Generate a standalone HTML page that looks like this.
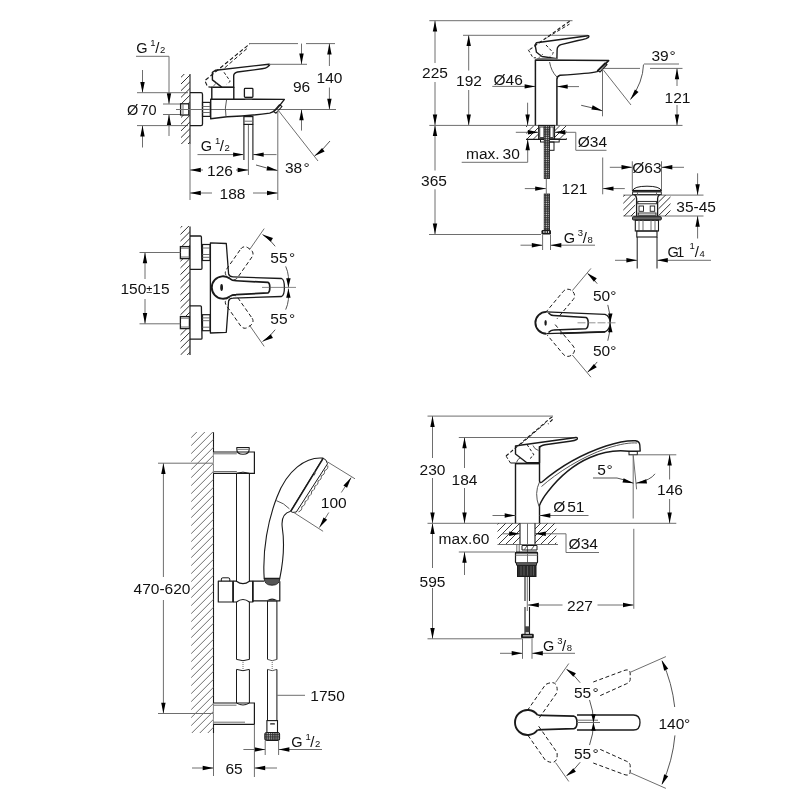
<!DOCTYPE html>
<html><head><meta charset="utf-8"><style>
html,body{margin:0;padding:0;background:#fff;width:800px;height:800px;overflow:hidden}
svg{display:block;will-change:transform}
text{font-family:"Liberation Sans",sans-serif;fill:#111}
</style></head><body>
<svg width="800" height="800" viewBox="0 0 800 800">
<defs><pattern id="braid" width="2.2" height="2.2" patternUnits="userSpaceOnUse"><rect width="2.2" height="2.2" fill="#2e2e2e"/><rect x="0.5" y="0.5" width="1.1" height="1.1" fill="#e8e8e8"/></pattern></defs>
<text x="136.20" y="52.60" font-size="14.5" text-anchor="start" >G</text>
<text x="150.30" y="45.60" font-size="9.5" text-anchor="start" >1</text>
<text x="155.20" y="52.90" font-size="15" text-anchor="start" >/</text>
<text x="159.90" y="53.00" font-size="9.5" text-anchor="start" >2</text>
<line x1="136.00" y1="56.30" x2="169.00" y2="56.30" stroke="#6e6e6e" stroke-width="1.0"/>
<line x1="169.00" y1="56.30" x2="169.00" y2="104.00" stroke="#6e6e6e" stroke-width="1.0"/>
<path d="M169.00,104.00 L166.80,93.20 L171.20,93.20 Z" fill="#000"/>
<line x1="169.00" y1="114.50" x2="169.00" y2="136.00" stroke="#6e6e6e" stroke-width="1.0"/>
<path d="M169.00,114.50 L171.20,125.30 L166.80,125.30 Z" fill="#000"/>
<line x1="142.50" y1="70.00" x2="142.50" y2="92.70" stroke="#6e6e6e" stroke-width="1.0"/>
<path d="M142.50,92.70 L140.30,81.90 L144.70,81.90 Z" fill="#000"/>
<line x1="142.50" y1="125.60" x2="142.50" y2="147.50" stroke="#6e6e6e" stroke-width="1.0"/>
<path d="M142.50,125.60 L144.70,136.40 L140.30,136.40 Z" fill="#000"/>
<text x="127.00" y="114.50" font-size="14.5" text-anchor="start" >Ø</text>
<text x="140.50" y="114.50" font-size="14.5" text-anchor="start" >70</text>
<line x1="137.00" y1="92.70" x2="188.00" y2="92.70" stroke="#6e6e6e" stroke-width="1.0"/>
<line x1="137.00" y1="125.60" x2="188.00" y2="125.60" stroke="#6e6e6e" stroke-width="1.0"/>
<line x1="163.00" y1="104.00" x2="180.00" y2="104.00" stroke="#6e6e6e" stroke-width="1.0"/>
<line x1="163.00" y1="114.50" x2="180.00" y2="114.50" stroke="#6e6e6e" stroke-width="1.0"/>
<line x1="190.00" y1="74.00" x2="190.00" y2="144.00" stroke="#1a1a1a" stroke-width="1.1"/>
<clipPath id="h1"><path d="M181,74 L190,74 L190,144 L181,144 Z"/></clipPath>
<g clip-path="url(#h1)">
<line x1="107.60" y1="144.00" x2="177.60" y2="74.00" stroke="#333" stroke-width="1.0"/>
<line x1="114.30" y1="144.00" x2="184.30" y2="74.00" stroke="#333" stroke-width="1.0"/>
<line x1="121.00" y1="144.00" x2="191.00" y2="74.00" stroke="#333" stroke-width="1.0"/>
<line x1="127.70" y1="144.00" x2="197.70" y2="74.00" stroke="#333" stroke-width="1.0"/>
<line x1="134.40" y1="144.00" x2="204.40" y2="74.00" stroke="#333" stroke-width="1.0"/>
<line x1="141.10" y1="144.00" x2="211.10" y2="74.00" stroke="#333" stroke-width="1.0"/>
<line x1="147.80" y1="144.00" x2="217.80" y2="74.00" stroke="#333" stroke-width="1.0"/>
<line x1="154.50" y1="144.00" x2="224.50" y2="74.00" stroke="#333" stroke-width="1.0"/>
<line x1="161.20" y1="144.00" x2="231.20" y2="74.00" stroke="#333" stroke-width="1.0"/>
<line x1="167.90" y1="144.00" x2="237.90" y2="74.00" stroke="#333" stroke-width="1.0"/>
<line x1="174.60" y1="144.00" x2="244.60" y2="74.00" stroke="#333" stroke-width="1.0"/>
<line x1="181.30" y1="144.00" x2="251.30" y2="74.00" stroke="#333" stroke-width="1.0"/>
<line x1="188.00" y1="144.00" x2="258.00" y2="74.00" stroke="#333" stroke-width="1.0"/>
<line x1="194.70" y1="144.00" x2="264.70" y2="74.00" stroke="#333" stroke-width="1.0"/>
</g>
<path d="M190,92.7 L201,92.7 Q202.5,92.7 202.5,94.5 L202.5,124 Q202.5,125.6 201,125.6 L190,125.6" fill="none" stroke="#1a1a1a" stroke-width="1.3" stroke-linejoin="round" />
<rect x="180.60" y="103.80" width="8.20" height="11.20" rx="0" fill="#fff" stroke="#1a1a1a" stroke-width="1.3"/>
<line x1="183.00" y1="103.80" x2="183.00" y2="115.00" stroke="#6e6e6e" stroke-width="1.0"/>
<rect x="202.50" y="102.40" width="7.80" height="14.00" rx="0" fill="none" stroke="#1a1a1a" stroke-width="1.2"/>
<line x1="202.50" y1="106.50" x2="210.30" y2="106.50" stroke="#6e6e6e" stroke-width="1.0"/>
<line x1="202.50" y1="109.40" x2="210.30" y2="109.40" stroke="#6e6e6e" stroke-width="1.0"/>
<line x1="202.50" y1="112.50" x2="210.30" y2="112.50" stroke="#6e6e6e" stroke-width="1.0"/>
<line x1="176.00" y1="109.50" x2="336.00" y2="109.50" stroke="#6e6e6e" stroke-width="1.0"/>
<path d="M210.7,99.1 L284.4,99.4 L279,106.4 Q275,111.5 269.7,113.1 Q250,116 227,116.8 L210.7,118.8 Z" fill="none" stroke="#1a1a1a" stroke-width="1.4" stroke-linejoin="round" />
<path d="M226.5,100 Q224.5,108 226,116.5" fill="none" stroke="#555" stroke-width="1.0" stroke-linejoin="round" />
<path d="M273.5,111.5 L279.5,104.7 L282,106.5 L276,113.2 Z" fill="none" stroke="#1a1a1a" stroke-width="1.1" stroke-linejoin="round" />
<path d="M211.8,99 L211.8,87.2 L233.8,87.2 L233.8,99" fill="none" stroke="#1a1a1a" stroke-width="1.4" stroke-linejoin="round" />
<path d="M212.4,72.3 L215.8,70.2 L268.8,64.2 Q270.3,64.3 269.2,65.5 L267.5,67 Q266,68.3 262,68.8 L237.5,72 Q233.7,72.8 233.7,76 L233.7,87.4 L222,87.4 L212.4,79.9 Z" fill="none" stroke="#1a1a1a" stroke-width="1.4" stroke-linejoin="round" />
<line x1="212.40" y1="87.40" x2="216.50" y2="82.60" stroke="#6e6e6e" stroke-width="1.0"/>
<path d="M212.4,87.4 L207.6,86.8 L204.8,80.6 L247.6,45.6 Q248.5,44.2 250,43.8" fill="none" stroke="#1a1a1a" stroke-width="1.1" stroke-linejoin="round" stroke-dasharray="4,2.3" />
<path d="M224.75,67.8 L248.1,47.6" fill="none" stroke="#1a1a1a" stroke-width="1.0" stroke-linejoin="round" stroke-dasharray="4,2.3" />
<path d="M224,72.3 L230.25,81.25 L226.8,84" fill="none" stroke="#1a1a1a" stroke-width="1.0" stroke-linejoin="round" stroke-dasharray="3,2" />
<rect x="244.40" y="88.40" width="8.50" height="9.00" rx="0.8" fill="none" stroke="#1a1a1a" stroke-width="1.3"/>
<line x1="245.20" y1="97.40" x2="252.20" y2="97.40" stroke="#1a1a1a" stroke-width="1"/>
<line x1="245.20" y1="99.00" x2="252.20" y2="99.00" stroke="#6e6e6e" stroke-width="1.0"/>
<rect x="243.90" y="116.60" width="9.00" height="7.80" rx="0" fill="none" stroke="#1a1a1a" stroke-width="1.2"/>
<line x1="243.90" y1="121.20" x2="252.90" y2="121.20" stroke="#6e6e6e" stroke-width="1.0"/>
<line x1="243.90" y1="124.40" x2="243.90" y2="160.00" stroke="#1a1a1a" stroke-width="1.1"/>
<line x1="252.90" y1="124.40" x2="252.90" y2="160.00" stroke="#1a1a1a" stroke-width="1.1"/>
<line x1="248.40" y1="125.00" x2="248.40" y2="175.00" stroke="#6e6e6e" stroke-width="1.0"/>
<line x1="249.00" y1="43.60" x2="298.00" y2="43.60" stroke="#6e6e6e" stroke-width="1.0"/>
<line x1="306.00" y1="43.60" x2="335.00" y2="43.60" stroke="#6e6e6e" stroke-width="1.0"/>
<line x1="269.00" y1="64.30" x2="307.00" y2="64.30" stroke="#6e6e6e" stroke-width="1.0"/>
<line x1="301.50" y1="43.60" x2="301.50" y2="64.30" stroke="#6e6e6e" stroke-width="1.0"/>
<path d="M301.50,64.30 L299.30,53.50 L303.70,53.50 Z" fill="#000"/>
<line x1="301.50" y1="109.50" x2="301.50" y2="130.60" stroke="#6e6e6e" stroke-width="1.0"/>
<path d="M301.50,109.50 L303.70,120.30 L299.30,120.30 Z" fill="#000"/>
<line x1="329.40" y1="43.60" x2="329.40" y2="66.00" stroke="#6e6e6e" stroke-width="1.0"/>
<line x1="329.40" y1="87.50" x2="329.40" y2="109.50" stroke="#6e6e6e" stroke-width="1.0"/>
<path d="M329.40,43.60 L331.60,54.40 L327.20,54.40 Z" fill="#000"/>
<path d="M329.40,109.50 L327.20,98.70 L331.60,98.70 Z" fill="#000"/>
<text x="329.50" y="82.60" font-size="15.5" text-anchor="middle" >140</text>
<text x="301.50" y="92.20" font-size="15.5" text-anchor="middle" >96</text>
<line x1="190.00" y1="144.00" x2="190.00" y2="200.00" stroke="#6e6e6e" stroke-width="1.0"/>
<line x1="277.80" y1="111.00" x2="277.80" y2="200.00" stroke="#6e6e6e" stroke-width="1.0"/>
<text x="200.80" y="151.00" font-size="14.5" text-anchor="start" >G</text>
<text x="214.90" y="144.00" font-size="9.5" text-anchor="start" >1</text>
<text x="219.80" y="151.30" font-size="15" text-anchor="start" >/</text>
<text x="224.50" y="151.40" font-size="9.5" text-anchor="start" >2</text>
<line x1="197.50" y1="154.60" x2="243.90" y2="154.60" stroke="#6e6e6e" stroke-width="1.0"/>
<path d="M243.90,154.60 L233.10,156.80 L233.10,152.40 Z" fill="#000"/>
<line x1="252.90" y1="154.60" x2="276.50" y2="154.60" stroke="#6e6e6e" stroke-width="1.0"/>
<path d="M252.90,154.60 L263.70,152.40 L263.70,156.80 Z" fill="#000"/>
<line x1="190.00" y1="170.00" x2="203.00" y2="170.00" stroke="#6e6e6e" stroke-width="1.0"/>
<path d="M190.00,170.00 L200.80,167.80 L200.80,172.20 Z" fill="#000"/>
<line x1="236.00" y1="170.00" x2="248.40" y2="170.00" stroke="#6e6e6e" stroke-width="1.0"/>
<path d="M248.40,170.00 L237.60,172.20 L237.60,167.80 Z" fill="#000"/>
<text x="220.00" y="175.50" font-size="15.5" text-anchor="middle" >126</text>
<line x1="190.00" y1="193.00" x2="212.00" y2="193.00" stroke="#6e6e6e" stroke-width="1.0"/>
<path d="M190.00,193.00 L200.80,190.80 L200.80,195.20 Z" fill="#000"/>
<line x1="253.00" y1="193.00" x2="277.80" y2="193.00" stroke="#6e6e6e" stroke-width="1.0"/>
<path d="M277.80,193.00 L267.00,195.20 L267.00,190.80 Z" fill="#000"/>
<text x="232.50" y="198.50" font-size="15.5" text-anchor="middle" >188</text>
<line x1="278.00" y1="110.00" x2="318.00" y2="161.00" stroke="#6e6e6e" stroke-width="1.0"/>
<path d="M256,165 Q266,168 277.5,170.5" fill="none" stroke="#555" stroke-width="1.0" stroke-linejoin="round" />
<path d="M277.50,170.50 L266.48,170.41 L267.39,166.10 Z" fill="#000"/>
<path d="M330,141 Q323,150 314.5,156" fill="none" stroke="#555" stroke-width="1.0" stroke-linejoin="round" />
<path d="M314.50,156.00 L322.08,148.00 L324.61,151.61 Z" fill="#000"/>
<text x="285.00" y="172.50" font-size="15.5" text-anchor="start" >38</text>
<text x="303.50" y="172.50" font-size="15.5" text-anchor="start" >°</text>
<line x1="190.00" y1="226.50" x2="190.00" y2="355.00" stroke="#1a1a1a" stroke-width="1.2"/>
<clipPath id="h2"><path d="M180.5,226 L190,226 L190,355 L180.5,355 Z"/></clipPath>
<g clip-path="url(#h2)">
<line x1="46.50" y1="355.00" x2="175.50" y2="226.00" stroke="#333" stroke-width="1.0"/>
<line x1="53.20" y1="355.00" x2="182.20" y2="226.00" stroke="#333" stroke-width="1.0"/>
<line x1="59.90" y1="355.00" x2="188.90" y2="226.00" stroke="#333" stroke-width="1.0"/>
<line x1="66.60" y1="355.00" x2="195.60" y2="226.00" stroke="#333" stroke-width="1.0"/>
<line x1="73.30" y1="355.00" x2="202.30" y2="226.00" stroke="#333" stroke-width="1.0"/>
<line x1="80.00" y1="355.00" x2="209.00" y2="226.00" stroke="#333" stroke-width="1.0"/>
<line x1="86.70" y1="355.00" x2="215.70" y2="226.00" stroke="#333" stroke-width="1.0"/>
<line x1="93.40" y1="355.00" x2="222.40" y2="226.00" stroke="#333" stroke-width="1.0"/>
<line x1="100.10" y1="355.00" x2="229.10" y2="226.00" stroke="#333" stroke-width="1.0"/>
<line x1="106.80" y1="355.00" x2="235.80" y2="226.00" stroke="#333" stroke-width="1.0"/>
<line x1="113.50" y1="355.00" x2="242.50" y2="226.00" stroke="#333" stroke-width="1.0"/>
<line x1="120.20" y1="355.00" x2="249.20" y2="226.00" stroke="#333" stroke-width="1.0"/>
<line x1="126.90" y1="355.00" x2="255.90" y2="226.00" stroke="#333" stroke-width="1.0"/>
<line x1="133.60" y1="355.00" x2="262.60" y2="226.00" stroke="#333" stroke-width="1.0"/>
<line x1="140.30" y1="355.00" x2="269.30" y2="226.00" stroke="#333" stroke-width="1.0"/>
<line x1="147.00" y1="355.00" x2="276.00" y2="226.00" stroke="#333" stroke-width="1.0"/>
<line x1="153.70" y1="355.00" x2="282.70" y2="226.00" stroke="#333" stroke-width="1.0"/>
<line x1="160.40" y1="355.00" x2="289.40" y2="226.00" stroke="#333" stroke-width="1.0"/>
<line x1="167.10" y1="355.00" x2="296.10" y2="226.00" stroke="#333" stroke-width="1.0"/>
<line x1="173.80" y1="355.00" x2="302.80" y2="226.00" stroke="#333" stroke-width="1.0"/>
<line x1="180.50" y1="355.00" x2="309.50" y2="226.00" stroke="#333" stroke-width="1.0"/>
<line x1="187.20" y1="355.00" x2="316.20" y2="226.00" stroke="#333" stroke-width="1.0"/>
<line x1="193.90" y1="355.00" x2="322.90" y2="226.00" stroke="#333" stroke-width="1.0"/>
</g>
<path d="M190,236.0 L200.5,236.0 Q201.3,236.0 201.4,237.0 L202,268.3 Q202,269.3 201,269.3 L190,269.3" fill="none" stroke="#1a1a1a" stroke-width="1.3" stroke-linejoin="round" />
<rect x="180.4" y="246.6" width="9" height="12.000000000000028" fill="#fff" stroke="#1a1a1a" stroke-width="1.3"/>
<line x1="181.00" y1="248.20" x2="189.40" y2="248.20" stroke="#6e6e6e" stroke-width="1.0"/>
<line x1="181.00" y1="257.00" x2="189.40" y2="257.00" stroke="#6e6e6e" stroke-width="1.0"/>
<rect x="202.50" y="244.50" width="7.60" height="16.00" rx="0" fill="none" stroke="#1a1a1a" stroke-width="1.2"/>
<line x1="202.50" y1="248.00" x2="210.10" y2="248.00" stroke="#6e6e6e" stroke-width="1.0"/>
<line x1="202.50" y1="254.50" x2="210.10" y2="254.50" stroke="#6e6e6e" stroke-width="1.0"/>
<line x1="202.50" y1="257.30" x2="210.10" y2="257.30" stroke="#6e6e6e" stroke-width="1.0"/>
<path d="M190,305.90000000000003 L200.5,305.90000000000003 Q201.3,305.90000000000003 201.4,306.90000000000003 L202,338.20000000000005 Q202,339.20000000000005 201,339.20000000000005 L190,339.20000000000005" fill="none" stroke="#1a1a1a" stroke-width="1.3" stroke-linejoin="round" />
<rect x="180.4" y="316.6" width="9" height="12.0" fill="#fff" stroke="#1a1a1a" stroke-width="1.3"/>
<line x1="181.00" y1="318.20" x2="189.40" y2="318.20" stroke="#6e6e6e" stroke-width="1.0"/>
<line x1="181.00" y1="327.00" x2="189.40" y2="327.00" stroke="#6e6e6e" stroke-width="1.0"/>
<rect x="202.50" y="314.70" width="7.60" height="16.00" rx="0" fill="none" stroke="#1a1a1a" stroke-width="1.2"/>
<line x1="202.50" y1="327.20" x2="210.10" y2="327.20" stroke="#6e6e6e" stroke-width="1.0"/>
<line x1="202.50" y1="320.70" x2="210.10" y2="320.70" stroke="#6e6e6e" stroke-width="1.0"/>
<line x1="202.50" y1="317.90" x2="210.10" y2="317.90" stroke="#6e6e6e" stroke-width="1.0"/>
<line x1="139.50" y1="252.50" x2="180.40" y2="252.50" stroke="#6e6e6e" stroke-width="1.0"/>
<line x1="139.50" y1="323.80" x2="180.40" y2="323.80" stroke="#6e6e6e" stroke-width="1.0"/>
<line x1="145.00" y1="252.50" x2="145.00" y2="279.00" stroke="#6e6e6e" stroke-width="1.0"/>
<line x1="145.00" y1="299.00" x2="145.00" y2="323.80" stroke="#6e6e6e" stroke-width="1.0"/>
<path d="M145.00,252.50 L147.20,263.30 L142.80,263.30 Z" fill="#000"/>
<path d="M145.00,323.80 L142.80,313.00 L147.20,313.00 Z" fill="#000"/>
<text x="145.00" y="294.00" font-size="15.5" text-anchor="middle" >150<tspan font-size="11" dy="-1">±</tspan><tspan dy="1">15</tspan></text>
<path d="M210.4,242.8 L226.3,243.5 L228.6,274 Q229.5,276.8 233,276.8 L281.5,278.5 Q284.4,279.5 284.4,287.5 Q284.4,295.5 281.5,296.5 L233,298.2 Q229.5,298.2 228.6,301 L226.3,332.3 L210.4,333 Z" fill="none" stroke="#1a1a1a" stroke-width="1.3" stroke-linejoin="round" />
<path d="M229.8,278.6 A11.2,11.2 0 1 0 229.8,296.4" fill="none" stroke="#1a1a1a" stroke-width="1.9" stroke-linejoin="round" />
<path d="M229.8,278.6 Q232,280.6 236,280.75 L268,282.4 Q269.8,283 269.8,287.5 Q269.8,292 268,292.9 L236,294.6 Q232,294.6 229.8,296.4" fill="none" stroke="#1a1a1a" stroke-width="1.7" stroke-linejoin="round" />
<ellipse cx="221.6" cy="287.5" rx="1.4" ry="3.4" fill="#1a1a1a"/>
<line x1="262.00" y1="287.40" x2="296.00" y2="287.40" stroke="#555" stroke-width="0.7"/>
<line x1="249.60" y1="249.60" x2="264.20" y2="228.60" stroke="#6e6e6e" stroke-width="1.0"/>
<line x1="249.60" y1="325.40" x2="264.20" y2="346.40" stroke="#6e6e6e" stroke-width="1.0"/>
<path d="M240.81,248.89 L241.69,247.93 L242.79,247.23 L244.04,246.84 L245.34,246.78 L246.62,247.06 L247.77,247.66 L250.89,249.84 L251.85,250.73 L252.55,251.83 L252.94,253.07 L253.00,254.38 L252.72,255.65 L252.11,256.81 L237.49,277.70 L236.61,278.66 L235.51,279.36 L234.26,279.75 L232.96,279.81 L231.68,279.53 L230.52,278.92 L227.41,276.74 L226.45,275.86 L225.75,274.76 L225.36,273.52 L225.30,272.21 L225.58,270.94 L226.18,269.78 Z" fill="none" stroke="#1a1a1a" stroke-width="1.0" stroke-linejoin="round" stroke-dasharray="4,2.5" />
<path d="M252.11,318.19 L252.72,319.35 L253.00,320.62 L252.94,321.93 L252.55,323.17 L251.85,324.27 L250.89,325.16 L247.77,327.34 L246.62,327.94 L245.34,328.22 L244.04,328.16 L242.79,327.77 L241.69,327.07 L240.81,326.11 L226.18,305.22 L225.58,304.06 L225.30,302.79 L225.36,301.48 L225.75,300.24 L226.45,299.14 L227.41,298.26 L230.52,296.08 L231.68,295.47 L232.96,295.19 L234.26,295.25 L235.51,295.64 L236.61,296.34 L237.49,297.30 Z" fill="none" stroke="#1a1a1a" stroke-width="1.0" stroke-linejoin="round" stroke-dasharray="4,2.5" />
<path d="M262.5,234.5 Q270,239 275.2,246.3" fill="none" stroke="#555" stroke-width="1.0" stroke-linejoin="round" />
<path d="M262.50,234.50 L272.95,237.99 L270.75,241.81 Z" fill="#000"/>
<path d="M285.7,266.4 Q287.8,271 288.4,276.5 L288.4,287.4" fill="none" stroke="#555" stroke-width="1.0" stroke-linejoin="round" />
<path d="M288.40,287.20 L286.20,278.20 L290.60,278.20 Z" fill="#000"/>
<path d="M262.5,341.5 Q270,337 275.2,329.7" fill="none" stroke="#555" stroke-width="1.0" stroke-linejoin="round" />
<path d="M262.50,341.50 L270.75,334.19 L272.95,338.01 Z" fill="#000"/>
<path d="M285.7,309.6 Q287.8,305 288.4,299.5 L288.4,288.6" fill="none" stroke="#555" stroke-width="1.0" stroke-linejoin="round" />
<path d="M288.40,288.80 L290.60,297.80 L286.20,297.80 Z" fill="#000"/>
<text x="270.30" y="263.10" font-size="15.5" text-anchor="start" >55</text>
<text x="288.90" y="263.10" font-size="15.5" text-anchor="start" >°</text>
<text x="270.30" y="324.40" font-size="15.5" text-anchor="start" >55</text>
<text x="288.90" y="324.40" font-size="15.5" text-anchor="start" >°</text>
<line x1="429.30" y1="20.70" x2="572.50" y2="20.70" stroke="#6e6e6e" stroke-width="1.0"/>
<line x1="463.00" y1="35.30" x2="588.00" y2="35.30" stroke="#6e6e6e" stroke-width="1.0"/>
<line x1="435.00" y1="20.70" x2="435.00" y2="63.00" stroke="#6e6e6e" stroke-width="1.0"/>
<line x1="435.00" y1="82.00" x2="435.00" y2="125.30" stroke="#6e6e6e" stroke-width="1.0"/>
<path d="M435.00,20.70 L437.20,31.50 L432.80,31.50 Z" fill="#000"/>
<path d="M435.00,125.30 L432.80,114.50 L437.20,114.50 Z" fill="#000"/>
<text x="435.00" y="78.20" font-size="15.5" text-anchor="middle" >225</text>
<line x1="435.00" y1="125.30" x2="435.00" y2="170.50" stroke="#6e6e6e" stroke-width="1.0"/>
<line x1="435.00" y1="189.30" x2="435.00" y2="234.30" stroke="#6e6e6e" stroke-width="1.0"/>
<path d="M435.00,125.30 L437.20,136.10 L432.80,136.10 Z" fill="#000"/>
<path d="M435.00,234.30 L432.80,223.50 L437.20,223.50 Z" fill="#000"/>
<text x="434.00" y="185.60" font-size="15.5" text-anchor="middle" >365</text>
<line x1="468.70" y1="35.30" x2="468.70" y2="70.50" stroke="#6e6e6e" stroke-width="1.0"/>
<line x1="468.70" y1="90.00" x2="468.70" y2="125.30" stroke="#6e6e6e" stroke-width="1.0"/>
<path d="M468.70,35.30 L470.90,46.10 L466.50,46.10 Z" fill="#000"/>
<path d="M468.70,125.30 L466.50,114.50 L470.90,114.50 Z" fill="#000"/>
<text x="469.00" y="85.60" font-size="15.5" text-anchor="middle" >192</text>
<line x1="429.30" y1="125.40" x2="682.50" y2="125.40" stroke="#6e6e6e" stroke-width="1.0"/>
<line x1="429.00" y1="234.50" x2="541.00" y2="234.50" stroke="#6e6e6e" stroke-width="1.0"/>
<text x="493.50" y="84.80" font-size="15.5" text-anchor="start" >Ø46</text>
<line x1="492.30" y1="86.40" x2="535.40" y2="86.40" stroke="#6e6e6e" stroke-width="1.0"/>
<path d="M535.40,86.40 L524.60,88.60 L524.60,84.20 Z" fill="#000"/>
<line x1="556.90" y1="86.60" x2="579.00" y2="86.60" stroke="#6e6e6e" stroke-width="1.0"/>
<path d="M556.90,86.60 L567.70,84.40 L567.70,88.80 Z" fill="#000"/>
<line x1="527.60" y1="102.70" x2="527.60" y2="125.30" stroke="#6e6e6e" stroke-width="1.0"/>
<path d="M527.60,125.30 L525.40,114.50 L529.80,114.50 Z" fill="#000"/>
<line x1="527.70" y1="139.50" x2="527.70" y2="162.30" stroke="#6e6e6e" stroke-width="1.0"/>
<path d="M527.70,139.50 L529.90,150.30 L525.50,150.30 Z" fill="#000"/>
<line x1="461.70" y1="162.30" x2="527.70" y2="162.30" stroke="#6e6e6e" stroke-width="1.0"/>
<text x="466.00" y="159.30" font-size="15.5" text-anchor="start" >max.</text>
<text x="502.60" y="159.30" font-size="15.5" text-anchor="start" >30</text>
<path d="M535.4,125.3 L535.4,59.9 L608.7,60.6 L597,71.6 Q590,73.5 560,75.2 Q556.9,76 556.9,79.5 L556.9,125.3" fill="none" stroke="#1a1a1a" stroke-width="1.5" stroke-linejoin="round" />
<path d="M549.6,62 Q551,71 556.9,77" fill="none" stroke="#555" stroke-width="1.0" stroke-linejoin="round" />
<path d="M597.5,70.5 L605,63 L607,64.5 L600,72 Z" fill="none" stroke="#1a1a1a" stroke-width="1.1" stroke-linejoin="round" />
<path d="M536.5,42.7 L588.1,35.8 Q589.5,36 588.5,37.3 L586,38.6 Q583,39.5 578,40.5 L561,44.6 Q557.2,45.7 557.1,50 L556.9,58.6 L542,56.5 L536.5,52.3 L535.1,44.8 Z" fill="none" stroke="#1a1a1a" stroke-width="1.4" stroke-linejoin="round" />
<line x1="536.50" y1="58.60" x2="556.90" y2="58.60" stroke="#6e6e6e" stroke-width="1.0"/>
<line x1="538.00" y1="58.60" x2="543.00" y2="54.00" stroke="#6e6e6e" stroke-width="1.0"/>
<path d="M529.6,49.6 L570.9,20.3" fill="none" stroke="#1a1a1a" stroke-width="1.1" stroke-linejoin="round" stroke-dasharray="3.5,2.2" />
<path d="M547.5,37.2 L569.5,24.1" fill="none" stroke="#1a1a1a" stroke-width="1.0" stroke-linejoin="round" stroke-dasharray="3.5,2.2" />
<path d="M528.3,49.8 L533,57.8 L536,57.8" fill="none" stroke="#1a1a1a" stroke-width="1.0" stroke-linejoin="round" stroke-dasharray="3,2" />
<path d="M546,45 L553.5,53 L550,56.5" fill="none" stroke="#1a1a1a" stroke-width="1.0" stroke-linejoin="round" stroke-dasharray="3,2" />
<line x1="602.50" y1="69.50" x2="602.50" y2="116.30" stroke="#6e6e6e" stroke-width="1.0"/>
<line x1="604.00" y1="68.40" x2="640.00" y2="68.40" stroke="#6e6e6e" stroke-width="1.0"/>
<line x1="650.00" y1="68.40" x2="682.50" y2="68.40" stroke="#6e6e6e" stroke-width="1.0"/>
<line x1="644.00" y1="64.00" x2="679.00" y2="64.00" stroke="#6e6e6e" stroke-width="1.0"/>
<line x1="603.50" y1="70.20" x2="631.00" y2="105.00" stroke="#6e6e6e" stroke-width="1.0"/>
<line x1="677.00" y1="68.40" x2="677.00" y2="86.00" stroke="#6e6e6e" stroke-width="1.0"/>
<line x1="677.00" y1="105.00" x2="677.00" y2="125.30" stroke="#6e6e6e" stroke-width="1.0"/>
<path d="M677.00,68.40 L679.20,79.20 L674.80,79.20 Z" fill="#000"/>
<path d="M677.00,125.30 L674.80,114.50 L679.20,114.50 Z" fill="#000"/>
<text x="677.50" y="102.80" font-size="15.5" text-anchor="middle" >121</text>
<text x="651.50" y="60.50" font-size="15.5" text-anchor="start" >39</text>
<text x="669.50" y="60.50" font-size="15.5" text-anchor="start" >°</text>
<path d="M643.5,64.5 Q643,82 630.5,99.5" fill="none" stroke="#555" stroke-width="1.0" stroke-linejoin="round" />
<path d="M630.50,99.50 L634.89,89.39 L638.50,91.92 Z" fill="#000"/>
<path d="M581.2,105.3 Q592,107.5 602.3,110.8" fill="none" stroke="#555" stroke-width="1.0" stroke-linejoin="round" />
<path d="M602.30,110.80 L591.35,109.55 L592.71,105.37 Z" fill="#000"/>
<clipPath id="h3"><path d="M526,125.5 L538.7,125.5 L538.7,139 L526,139 Z M554.5,125.5 L566.7,125.5 L566.7,139 L554.5,139 Z"/></clipPath>
<g clip-path="url(#h3)">
<line x1="507.50" y1="139.00" x2="521.00" y2="125.50" stroke="#333" stroke-width="0.95"/>
<line x1="514.00" y1="139.00" x2="527.50" y2="125.50" stroke="#333" stroke-width="0.95"/>
<line x1="520.50" y1="139.00" x2="534.00" y2="125.50" stroke="#333" stroke-width="0.95"/>
<line x1="527.00" y1="139.00" x2="540.50" y2="125.50" stroke="#333" stroke-width="0.95"/>
<line x1="533.50" y1="139.00" x2="547.00" y2="125.50" stroke="#333" stroke-width="0.95"/>
<line x1="540.00" y1="139.00" x2="553.50" y2="125.50" stroke="#333" stroke-width="0.95"/>
<line x1="546.50" y1="139.00" x2="560.00" y2="125.50" stroke="#333" stroke-width="0.95"/>
<line x1="553.00" y1="139.00" x2="566.50" y2="125.50" stroke="#333" stroke-width="0.95"/>
<line x1="559.50" y1="139.00" x2="573.00" y2="125.50" stroke="#333" stroke-width="0.95"/>
<line x1="566.00" y1="139.00" x2="579.50" y2="125.50" stroke="#333" stroke-width="0.95"/>
</g>
<line x1="526.00" y1="139.40" x2="566.70" y2="139.40" stroke="#1a1a1a" stroke-width="1.2"/>
<rect x="538.70" y="125.50" width="15.80" height="13.50" rx="0" fill="none" stroke="#1a1a1a" stroke-width="1.2"/>
<rect x="539.80" y="127.00" width="4.20" height="10.50" rx="0" fill="none" stroke="#1a1a1a" stroke-width="0.8"/>
<rect x="550.00" y="127.00" width="3.20" height="10.50" rx="0" fill="none" stroke="#1a1a1a" stroke-width="0.8"/>
<rect x="540.50" y="139.00" width="18.70" height="3.00" rx="0" fill="none" stroke="#1a1a1a" stroke-width="1.0"/>
<rect x="548.80" y="142.00" width="5.20" height="8.30" rx="0" fill="none" stroke="#1a1a1a" stroke-width="1.0"/>
<line x1="515.80" y1="132.30" x2="538.70" y2="132.30" stroke="#6e6e6e" stroke-width="1.0"/>
<path d="M538.70,132.30 L527.90,134.50 L527.90,130.10 Z" fill="#000"/>
<line x1="554.50" y1="132.30" x2="575.80" y2="132.30" stroke="#6e6e6e" stroke-width="1.0"/>
<path d="M554.50,132.30 L565.30,130.10 L565.30,134.50 Z" fill="#000"/>
<line x1="575.80" y1="132.30" x2="575.80" y2="150.30" stroke="#6e6e6e" stroke-width="1.0"/>
<line x1="575.80" y1="150.30" x2="606.50" y2="150.30" stroke="#6e6e6e" stroke-width="1.0"/>
<text x="577.80" y="147.30" font-size="15.5" text-anchor="start" >Ø34</text>
<rect x="544.2" y="125.7" width="5.399999999999977" height="52.8" fill="url(#braid)" stroke="#1a1a1a" stroke-width="0.8"/>
<rect x="544.2" y="194" width="5.399999999999977" height="36" fill="url(#braid)" stroke="#1a1a1a" stroke-width="0.8"/>
<line x1="546.30" y1="178.50" x2="546.30" y2="194.00" stroke="#6e6e6e" stroke-width="1.0"/>
<rect x="541.5" y="230" width="9.5" height="4.5" rx="1.2" fill="#1a1a1a"/>
<rect x="543.3" y="231.2" width="1.2" height="1.6" fill="#fff"/>
<rect x="545.6" y="231.2" width="1.2" height="1.6" fill="#fff"/>
<rect x="547.9" y="231.2" width="1.2" height="1.6" fill="#fff"/>
<line x1="542.60" y1="234.50" x2="542.60" y2="250.00" stroke="#6e6e6e" stroke-width="1.0"/>
<line x1="550.50" y1="234.50" x2="550.50" y2="250.00" stroke="#6e6e6e" stroke-width="1.0"/>
<line x1="524.80" y1="188.60" x2="546.00" y2="188.60" stroke="#6e6e6e" stroke-width="1.0"/>
<path d="M546.00,188.60 L535.20,190.80 L535.20,186.40 Z" fill="#000"/>
<line x1="602.70" y1="188.60" x2="624.80" y2="188.60" stroke="#6e6e6e" stroke-width="1.0"/>
<path d="M602.70,188.60 L613.50,186.40 L613.50,190.80 Z" fill="#000"/>
<line x1="602.70" y1="157.50" x2="602.70" y2="194.30" stroke="#6e6e6e" stroke-width="1.0"/>
<text x="574.50" y="194.30" font-size="15.5" text-anchor="middle" >121</text>
<line x1="520.50" y1="245.20" x2="542.60" y2="245.20" stroke="#6e6e6e" stroke-width="1.0"/>
<path d="M542.60,245.20 L531.80,247.40 L531.80,243.00 Z" fill="#000"/>
<line x1="550.50" y1="245.20" x2="595.00" y2="245.20" stroke="#6e6e6e" stroke-width="1.0"/>
<path d="M550.50,245.20 L561.30,243.00 L561.30,247.40 Z" fill="#000"/>
<text x="563.70" y="242.50" font-size="14.5" text-anchor="start" >G</text>
<text x="577.80" y="235.50" font-size="9.5" text-anchor="start" >3</text>
<text x="582.70" y="242.80" font-size="15" text-anchor="start" >/</text>
<text x="587.40" y="242.90" font-size="9.5" text-anchor="start" >8</text>
<line x1="609.80" y1="167.30" x2="632.30" y2="167.30" stroke="#6e6e6e" stroke-width="1.0"/>
<path d="M632.30,167.30 L621.50,169.50 L621.50,165.10 Z" fill="#000"/>
<line x1="661.50" y1="167.30" x2="684.00" y2="167.30" stroke="#6e6e6e" stroke-width="1.0"/>
<path d="M661.50,167.30 L672.30,165.10 L672.30,169.50 Z" fill="#000"/>
<line x1="632.30" y1="161.30" x2="632.30" y2="190.50" stroke="#6e6e6e" stroke-width="1.0"/>
<line x1="661.50" y1="161.30" x2="661.50" y2="190.50" stroke="#6e6e6e" stroke-width="1.0"/>
<text x="632.30" y="172.60" font-size="15.5" text-anchor="start" >Ø63</text>
<line x1="623.30" y1="195.10" x2="703.50" y2="195.10" stroke="#6e6e6e" stroke-width="1.0"/>
<line x1="623.30" y1="216.00" x2="703.50" y2="216.00" stroke="#6e6e6e" stroke-width="1.0"/>
<clipPath id="h4"><path d="M623.3,195 L635.2,195 L635.2,216 L623.3,216 Z M658.5,195 L670.5,195 L670.5,216 L658.5,216 Z"/></clipPath>
<g clip-path="url(#h4)">
<line x1="597.00" y1="216.00" x2="618.00" y2="195.00" stroke="#333" stroke-width="1.0"/>
<line x1="603.80" y1="216.00" x2="624.80" y2="195.00" stroke="#333" stroke-width="1.0"/>
<line x1="610.60" y1="216.00" x2="631.60" y2="195.00" stroke="#333" stroke-width="1.0"/>
<line x1="617.40" y1="216.00" x2="638.40" y2="195.00" stroke="#333" stroke-width="1.0"/>
<line x1="624.20" y1="216.00" x2="645.20" y2="195.00" stroke="#333" stroke-width="1.0"/>
<line x1="631.00" y1="216.00" x2="652.00" y2="195.00" stroke="#333" stroke-width="1.0"/>
<line x1="637.80" y1="216.00" x2="658.80" y2="195.00" stroke="#333" stroke-width="1.0"/>
<line x1="644.60" y1="216.00" x2="665.60" y2="195.00" stroke="#333" stroke-width="1.0"/>
<line x1="651.40" y1="216.00" x2="672.40" y2="195.00" stroke="#333" stroke-width="1.0"/>
<line x1="658.20" y1="216.00" x2="679.20" y2="195.00" stroke="#333" stroke-width="1.0"/>
<line x1="665.00" y1="216.00" x2="686.00" y2="195.00" stroke="#333" stroke-width="1.0"/>
<line x1="671.80" y1="216.00" x2="692.80" y2="195.00" stroke="#333" stroke-width="1.0"/>
</g>
<path d="M632.5,190.8 Q634,186.2 647,186.2 Q660,186.2 661.4,190.8 Z" fill="none" stroke="#1a1a1a" stroke-width="1.0" stroke-linejoin="round" />
<line x1="632.50" y1="190.80" x2="661.40" y2="190.80" stroke="#1a1a1a" stroke-width="1.8"/>
<rect x="632.60" y="192.00" width="28.70" height="2.60" rx="0" fill="none" stroke="#1a1a1a" stroke-width="0.9"/>
<line x1="637.50" y1="192.00" x2="637.50" y2="194.60" stroke="#6e6e6e" stroke-width="1.0"/>
<line x1="656.50" y1="192.00" x2="656.50" y2="194.60" stroke="#6e6e6e" stroke-width="1.0"/>
<path d="M634.5,195 Q636.5,196 636.6,198.5 L636.6,216" fill="none" stroke="#1a1a1a" stroke-width="1.3" stroke-linejoin="round" />
<path d="M659.5,195 Q657.6,196 657.6,198.5 L657.6,216" fill="none" stroke="#1a1a1a" stroke-width="1.3" stroke-linejoin="round" />
<rect x="637.80" y="201.40" width="18.60" height="2.40" rx="0" fill="none" stroke="#1a1a1a" stroke-width="0.9"/>
<rect x="639.00" y="206.00" width="4.50" height="5.30" rx="0" fill="none" stroke="#1a1a1a" stroke-width="0.9"/>
<rect x="650.20" y="206.00" width="4.50" height="5.30" rx="0" fill="none" stroke="#1a1a1a" stroke-width="0.9"/>
<rect x="638.20" y="213.00" width="17.80" height="2.20" rx="0" fill="none" stroke="#1a1a1a" stroke-width="0.9"/>
<rect x="632.5" y="216.7" width="28.8" height="3.3" rx="1" fill="#666" stroke="#1a1a1a" stroke-width="1"/>
<rect x="635.30" y="220.30" width="23.20" height="10.70" rx="0" fill="none" stroke="#1a1a1a" stroke-width="1.1"/>
<line x1="639.00" y1="220.30" x2="639.00" y2="231.00" stroke="#6e6e6e" stroke-width="1.0"/>
<line x1="643.00" y1="220.30" x2="643.00" y2="231.00" stroke="#6e6e6e" stroke-width="1.0"/>
<line x1="651.00" y1="220.30" x2="651.00" y2="231.00" stroke="#6e6e6e" stroke-width="1.0"/>
<line x1="655.00" y1="220.30" x2="655.00" y2="231.00" stroke="#6e6e6e" stroke-width="1.0"/>
<rect x="636.80" y="231.00" width="20.20" height="6.00" rx="0" fill="none" stroke="#1a1a1a" stroke-width="1.1"/>
<line x1="637.20" y1="237.00" x2="637.20" y2="268.50" stroke="#1a1a1a" stroke-width="1.0"/>
<line x1="657.00" y1="237.00" x2="657.00" y2="268.50" stroke="#1a1a1a" stroke-width="1.0"/>
<line x1="697.60" y1="173.30" x2="697.60" y2="195.00" stroke="#6e6e6e" stroke-width="1.0"/>
<path d="M697.60,195.00 L695.40,184.20 L699.80,184.20 Z" fill="#000"/>
<line x1="697.60" y1="216.00" x2="697.60" y2="238.50" stroke="#6e6e6e" stroke-width="1.0"/>
<path d="M697.60,216.00 L699.80,226.80 L695.40,226.80 Z" fill="#000"/>
<text x="676.30" y="211.80" font-size="15.5" text-anchor="start" >35-45</text>
<line x1="615.00" y1="260.30" x2="637.20" y2="260.30" stroke="#6e6e6e" stroke-width="1.0"/>
<path d="M637.20,260.30 L626.40,262.50 L626.40,258.10 Z" fill="#000"/>
<line x1="657.00" y1="260.30" x2="711.00" y2="260.30" stroke="#6e6e6e" stroke-width="1.0"/>
<path d="M657.00,260.30 L667.80,258.10 L667.80,262.50 Z" fill="#000"/>
<text x="667.50" y="256.60" font-size="14.5" text-anchor="start" >G</text>
<text x="676.30" y="256.60" font-size="14.5" text-anchor="start" >1</text>
<text x="689.60" y="249.20" font-size="9.5" text-anchor="start" >1</text>
<text x="694.80" y="256.90" font-size="15" text-anchor="start" >/</text>
<text x="699.60" y="257.00" font-size="9.5" text-anchor="start" >4</text>
<line x1="213.50" y1="432.30" x2="213.50" y2="733.00" stroke="#1a1a1a" stroke-width="1.1"/>
<line x1="213.50" y1="733.00" x2="213.50" y2="776.00" stroke="#6e6e6e" stroke-width="1.0"/>
<clipPath id="h5"><path d="M191.2,432 L213.5,432 L213.5,733 L191.2,733 Z"/></clipPath>
<g clip-path="url(#h5)">
<line x1="-112.20" y1="733.00" x2="188.80" y2="432.00" stroke="#666" stroke-width="0.95"/>
<line x1="-104.20" y1="733.00" x2="196.80" y2="432.00" stroke="#666" stroke-width="0.95"/>
<line x1="-96.20" y1="733.00" x2="204.80" y2="432.00" stroke="#666" stroke-width="0.95"/>
<line x1="-88.20" y1="733.00" x2="212.80" y2="432.00" stroke="#666" stroke-width="0.95"/>
<line x1="-80.20" y1="733.00" x2="220.80" y2="432.00" stroke="#666" stroke-width="0.95"/>
<line x1="-72.20" y1="733.00" x2="228.80" y2="432.00" stroke="#666" stroke-width="0.95"/>
<line x1="-64.20" y1="733.00" x2="236.80" y2="432.00" stroke="#666" stroke-width="0.95"/>
<line x1="-56.20" y1="733.00" x2="244.80" y2="432.00" stroke="#666" stroke-width="0.95"/>
<line x1="-48.20" y1="733.00" x2="252.80" y2="432.00" stroke="#666" stroke-width="0.95"/>
<line x1="-40.20" y1="733.00" x2="260.80" y2="432.00" stroke="#666" stroke-width="0.95"/>
<line x1="-32.20" y1="733.00" x2="268.80" y2="432.00" stroke="#666" stroke-width="0.95"/>
<line x1="-24.20" y1="733.00" x2="276.80" y2="432.00" stroke="#666" stroke-width="0.95"/>
<line x1="-16.20" y1="733.00" x2="284.80" y2="432.00" stroke="#666" stroke-width="0.95"/>
<line x1="-8.20" y1="733.00" x2="292.80" y2="432.00" stroke="#666" stroke-width="0.95"/>
<line x1="-0.20" y1="733.00" x2="300.80" y2="432.00" stroke="#666" stroke-width="0.95"/>
<line x1="7.80" y1="733.00" x2="308.80" y2="432.00" stroke="#666" stroke-width="0.95"/>
<line x1="15.80" y1="733.00" x2="316.80" y2="432.00" stroke="#666" stroke-width="0.95"/>
<line x1="23.80" y1="733.00" x2="324.80" y2="432.00" stroke="#666" stroke-width="0.95"/>
<line x1="31.80" y1="733.00" x2="332.80" y2="432.00" stroke="#666" stroke-width="0.95"/>
<line x1="39.80" y1="733.00" x2="340.80" y2="432.00" stroke="#666" stroke-width="0.95"/>
<line x1="47.80" y1="733.00" x2="348.80" y2="432.00" stroke="#666" stroke-width="0.95"/>
<line x1="55.80" y1="733.00" x2="356.80" y2="432.00" stroke="#666" stroke-width="0.95"/>
<line x1="63.80" y1="733.00" x2="364.80" y2="432.00" stroke="#666" stroke-width="0.95"/>
<line x1="71.80" y1="733.00" x2="372.80" y2="432.00" stroke="#666" stroke-width="0.95"/>
<line x1="79.80" y1="733.00" x2="380.80" y2="432.00" stroke="#666" stroke-width="0.95"/>
<line x1="87.80" y1="733.00" x2="388.80" y2="432.00" stroke="#666" stroke-width="0.95"/>
<line x1="95.80" y1="733.00" x2="396.80" y2="432.00" stroke="#666" stroke-width="0.95"/>
<line x1="103.80" y1="733.00" x2="404.80" y2="432.00" stroke="#666" stroke-width="0.95"/>
<line x1="111.80" y1="733.00" x2="412.80" y2="432.00" stroke="#666" stroke-width="0.95"/>
<line x1="119.80" y1="733.00" x2="420.80" y2="432.00" stroke="#666" stroke-width="0.95"/>
<line x1="127.80" y1="733.00" x2="428.80" y2="432.00" stroke="#666" stroke-width="0.95"/>
<line x1="135.80" y1="733.00" x2="436.80" y2="432.00" stroke="#666" stroke-width="0.95"/>
<line x1="143.80" y1="733.00" x2="444.80" y2="432.00" stroke="#666" stroke-width="0.95"/>
<line x1="151.80" y1="733.00" x2="452.80" y2="432.00" stroke="#666" stroke-width="0.95"/>
<line x1="159.80" y1="733.00" x2="460.80" y2="432.00" stroke="#666" stroke-width="0.95"/>
<line x1="167.80" y1="733.00" x2="468.80" y2="432.00" stroke="#666" stroke-width="0.95"/>
<line x1="175.80" y1="733.00" x2="476.80" y2="432.00" stroke="#666" stroke-width="0.95"/>
<line x1="183.80" y1="733.00" x2="484.80" y2="432.00" stroke="#666" stroke-width="0.95"/>
<line x1="191.80" y1="733.00" x2="492.80" y2="432.00" stroke="#666" stroke-width="0.95"/>
<line x1="199.80" y1="733.00" x2="500.80" y2="432.00" stroke="#666" stroke-width="0.95"/>
<line x1="207.80" y1="733.00" x2="508.80" y2="432.00" stroke="#666" stroke-width="0.95"/>
<line x1="215.80" y1="733.00" x2="516.80" y2="432.00" stroke="#666" stroke-width="0.95"/>
</g>
<line x1="158.00" y1="463.20" x2="213.50" y2="463.20" stroke="#6e6e6e" stroke-width="1.0"/>
<line x1="158.00" y1="713.50" x2="213.50" y2="713.50" stroke="#6e6e6e" stroke-width="1.0"/>
<line x1="163.40" y1="463.20" x2="163.40" y2="577.00" stroke="#6e6e6e" stroke-width="1.0"/>
<line x1="163.40" y1="600.00" x2="163.40" y2="713.50" stroke="#6e6e6e" stroke-width="1.0"/>
<path d="M163.40,463.20 L165.60,474.00 L161.20,474.00 Z" fill="#000"/>
<path d="M163.40,713.50 L161.20,702.70 L165.60,702.70 Z" fill="#000"/>
<text x="162.00" y="594.20" font-size="15.5" text-anchor="middle" >470-620</text>
<path d="M213.5,452 L254.4,452 L254.4,473.3 L213.5,473.3" fill="#fff" stroke="#1a1a1a" stroke-width="1.2"/>
<line x1="213.50" y1="453.80" x2="236.80" y2="453.80" stroke="#6e6e6e" stroke-width="1.0"/>
<line x1="213.50" y1="471.50" x2="236.80" y2="471.50" stroke="#6e6e6e" stroke-width="1.0"/>
<path d="M236.8,447.5 L249.2,447.5 L249.2,449.3 Q249.2,454.3 243,454.3 Q236.8,454.3 236.8,449.3 Z" fill="none" stroke="#1a1a1a" stroke-width="1.1" stroke-linejoin="round" />
<line x1="236.80" y1="449.30" x2="249.20" y2="449.30" stroke="#6e6e6e" stroke-width="1.0"/>
<path d="M236.5,473.3 Q243,471 249.4,473.3" fill="none" stroke="#1a1a1a" stroke-width="1.0" stroke-linejoin="round" />
<line x1="236.50" y1="473.30" x2="236.50" y2="581.50" stroke="#1a1a1a" stroke-width="1.05"/>
<line x1="249.40" y1="473.30" x2="249.40" y2="581.50" stroke="#1a1a1a" stroke-width="1.05"/>
<line x1="236.50" y1="602.00" x2="236.50" y2="659.40" stroke="#1a1a1a" stroke-width="1.05"/>
<line x1="249.40" y1="602.00" x2="249.40" y2="659.40" stroke="#1a1a1a" stroke-width="1.05"/>
<path d="M236.5,659.4 Q243,662 249.4,659.4" fill="none" stroke="#1a1a1a" stroke-width="1.0" stroke-linejoin="round" />
<path d="M236.5,669.4 Q243,672 249.4,669.4" fill="none" stroke="#1a1a1a" stroke-width="1.0" stroke-linejoin="round" />
<line x1="243.00" y1="662.00" x2="243.00" y2="669.40" stroke="#6e6e6e" stroke-width="1.0" stroke-dasharray="1,1"/>
<line x1="236.50" y1="669.40" x2="236.50" y2="703.00" stroke="#1a1a1a" stroke-width="1.05"/>
<line x1="249.40" y1="669.40" x2="249.40" y2="703.00" stroke="#1a1a1a" stroke-width="1.05"/>
<path d="M213.5,703 L254.4,703 L254.4,724.3 L213.5,724.3" fill="#fff" stroke="#1a1a1a" stroke-width="1.2"/>
<line x1="213.50" y1="705.20" x2="236.50" y2="705.20" stroke="#6e6e6e" stroke-width="1.0"/>
<line x1="213.50" y1="722.20" x2="245.00" y2="722.20" stroke="#6e6e6e" stroke-width="1.0"/>
<path d="M236.5,703 Q243,707 249.4,703" fill="none" stroke="#1a1a1a" stroke-width="1.0" stroke-linejoin="round" />
<path d="M218.3,581.2 L233.1,581.2 L233.1,602 L218.3,602 Z" fill="none" stroke="#1a1a1a" stroke-width="1.2" stroke-linejoin="round" />
<path d="M221.3,581.2 L221.3,579 Q221.3,577.8 223,577.8 L228,577.8 Q229.8,577.8 229.8,579 L229.8,581.2" fill="none" stroke="#1a1a1a" stroke-width="1.0" stroke-linejoin="round" />
<path d="M233.1,581.2 L236.5,581.2 Q243,586 249.4,581.2 L252.8,581.2 L252.8,602 L249.4,602 Q243,597 236.5,602 L233.1,602" fill="none" stroke="#1a1a1a" stroke-width="1.2" stroke-linejoin="round" />
<path d="M252.8,581.2 L264,581.2 M279.8,581.2 L279.8,600.9 L276.9,600.9 Q272,597.5 267.5,600.9 L252.8,600.9" fill="none" stroke="#1a1a1a" stroke-width="1.2" stroke-linejoin="round" />
<line x1="233.10" y1="581.20" x2="233.10" y2="602.00" stroke="#1a1a1a" stroke-width="1.6"/>
<line x1="252.80" y1="581.20" x2="252.80" y2="602.00" stroke="#1a1a1a" stroke-width="1.6"/>
<path d="M323.1,458.1 C306,456.5 287,470 277,497 C268,520 262.3,550 264.2,578.4 L279.8,578.4 C283.6,560 284.2,540 282.2,527 C281.2,518 284,513 290.6,511.3" fill="none" stroke="#1a1a1a" stroke-width="1.1" stroke-linejoin="round" />
<path d="M323.1,458.1 L290.6,511.3 Q292.2,513.2 296.3,512 L327.5,463.8 Q326.8,459.5 323.1,458.1 Z" fill="none" stroke="#1a1a1a" stroke-width="1.0" stroke-linejoin="round" />
<line x1="323.10" y1="458.30" x2="290.80" y2="511.20" stroke="#1a1a1a" stroke-width="1.6"/>
<path d="M327.80,465.50 Q328.37,469.46 324.54,470.64 Q325.11,474.61 321.29,475.79 Q321.86,479.75 318.03,480.93 Q318.60,484.90 314.78,486.08 Q315.35,490.04 311.52,491.22 Q312.09,495.18 308.27,496.37 Q308.84,500.33 305.01,501.51 Q305.58,505.47 301.76,506.66 Q302.32,510.62 298.50,511.80" fill="none" stroke="#555" stroke-width="1.0" stroke-linejoin="round" />
<path d="M276.3,500.6 Q284,503 289.4,508.8" fill="none" stroke="#555" stroke-width="1.0" stroke-linejoin="round" />
<path d="M314.5,471 Q316,473.5 314,475.5" fill="none" stroke="#555" stroke-width="1.0" stroke-linejoin="round" />
<path d="M264.2,578.6 L279.8,578.6 Q279.5,585.2 272,585.2 Q264.5,585.2 264.2,578.6 Z" fill="#555" stroke="#1a1a1a" stroke-width="0.9"/>
<line x1="327.50" y1="461.90" x2="355.00" y2="478.80" stroke="#6e6e6e" stroke-width="1.0"/>
<line x1="293.80" y1="512.50" x2="323.10" y2="531.30" stroke="#6e6e6e" stroke-width="1.0"/>
<line x1="341.30" y1="492.50" x2="351.20" y2="477.60" stroke="#6e6e6e" stroke-width="1.0"/>
<path d="M351.20,477.60 L347.07,487.82 L343.40,485.39 Z" fill="#000"/>
<line x1="328.80" y1="512.50" x2="319.40" y2="527.60" stroke="#6e6e6e" stroke-width="1.0"/>
<path d="M319.40,527.60 L323.53,517.38 L327.20,519.81 Z" fill="#000"/>
<text x="333.80" y="507.80" font-size="15.5" text-anchor="middle" >100</text>
<rect x="267.4" y="599.8" width="9.5" height="2" fill="#444"/>
<line x1="267.50" y1="601.00" x2="267.50" y2="659.40" stroke="#1a1a1a" stroke-width="1.05"/>
<line x1="276.90" y1="601.00" x2="276.90" y2="659.40" stroke="#1a1a1a" stroke-width="1.05"/>
<path d="M267.5,659.4 Q272.2,662 276.9,659.4" fill="none" stroke="#555" stroke-width="1.0" stroke-linejoin="round" />
<path d="M267.5,669.4 Q272.2,672 276.9,669.4" fill="none" stroke="#555" stroke-width="1.0" stroke-linejoin="round" />
<line x1="272.20" y1="662.00" x2="272.20" y2="669.40" stroke="#6e6e6e" stroke-width="1.0" stroke-dasharray="1,1"/>
<line x1="267.50" y1="669.40" x2="267.50" y2="720.60" stroke="#1a1a1a" stroke-width="1.05"/>
<line x1="276.90" y1="669.40" x2="276.90" y2="720.60" stroke="#1a1a1a" stroke-width="1.05"/>
<rect x="266.90" y="720.60" width="10.60" height="12.00" rx="0" fill="none" stroke="#1a1a1a" stroke-width="1.1"/>
<rect x="270" y="723.2" width="5" height="1.4" rx="0.7" fill="#1a1a1a"/>
<rect x="264.8" y="732.5" width="14.8" height="8" rx="1.6" fill="url(#braid)" stroke="#1a1a1a" stroke-width="1"/>
<line x1="265.20" y1="740.50" x2="265.20" y2="755.00" stroke="#6e6e6e" stroke-width="1.0"/>
<line x1="278.60" y1="740.50" x2="278.60" y2="755.00" stroke="#6e6e6e" stroke-width="1.0"/>
<line x1="276.90" y1="695.30" x2="305.00" y2="695.30" stroke="#6e6e6e" stroke-width="1.0"/>
<text x="310.30" y="700.80" font-size="15.5" text-anchor="start" >1750</text>
<line x1="243.40" y1="749.50" x2="265.20" y2="749.50" stroke="#6e6e6e" stroke-width="1.0"/>
<path d="M265.20,749.50 L254.40,751.70 L254.40,747.30 Z" fill="#000"/>
<line x1="278.60" y1="749.50" x2="322.00" y2="749.50" stroke="#6e6e6e" stroke-width="1.0"/>
<path d="M278.60,749.50 L289.40,747.30 L289.40,751.70 Z" fill="#000"/>
<text x="291.30" y="747.00" font-size="14.5" text-anchor="start" >G</text>
<text x="305.40" y="740.00" font-size="9.5" text-anchor="start" >1</text>
<text x="310.30" y="747.30" font-size="15" text-anchor="start" >/</text>
<text x="315.00" y="747.40" font-size="9.5" text-anchor="start" >2</text>
<line x1="254.40" y1="724.30" x2="254.40" y2="777.00" stroke="#6e6e6e" stroke-width="1.0"/>
<line x1="192.00" y1="768.00" x2="213.50" y2="768.00" stroke="#6e6e6e" stroke-width="1.0"/>
<path d="M213.50,768.00 L202.70,770.20 L202.70,765.80 Z" fill="#000"/>
<line x1="254.40" y1="768.00" x2="277.00" y2="768.00" stroke="#6e6e6e" stroke-width="1.0"/>
<path d="M254.40,768.00 L265.20,765.80 L265.20,770.20 Z" fill="#000"/>
<text x="234.00" y="773.50" font-size="15.5" text-anchor="middle" >65</text>
<line x1="427.50" y1="416.10" x2="553.00" y2="416.10" stroke="#6e6e6e" stroke-width="1.0"/>
<line x1="458.80" y1="437.50" x2="576.00" y2="437.50" stroke="#6e6e6e" stroke-width="1.0"/>
<line x1="432.50" y1="416.10" x2="432.50" y2="458.00" stroke="#6e6e6e" stroke-width="1.0"/>
<line x1="432.50" y1="478.00" x2="432.50" y2="523.30" stroke="#6e6e6e" stroke-width="1.0"/>
<path d="M432.50,416.10 L434.70,426.90 L430.30,426.90 Z" fill="#000"/>
<path d="M432.50,523.30 L430.30,512.50 L434.70,512.50 Z" fill="#000"/>
<text x="432.50" y="475.30" font-size="15.5" text-anchor="middle" >230</text>
<line x1="432.50" y1="523.30" x2="432.50" y2="568.00" stroke="#6e6e6e" stroke-width="1.0"/>
<line x1="432.50" y1="588.00" x2="432.50" y2="638.80" stroke="#6e6e6e" stroke-width="1.0"/>
<path d="M432.50,523.30 L434.70,534.10 L430.30,534.10 Z" fill="#000"/>
<path d="M432.50,638.80 L430.30,628.00 L434.70,628.00 Z" fill="#000"/>
<text x="432.50" y="587.00" font-size="15.5" text-anchor="middle" >595</text>
<line x1="464.50" y1="437.50" x2="464.50" y2="468.00" stroke="#6e6e6e" stroke-width="1.0"/>
<line x1="464.50" y1="488.00" x2="464.50" y2="523.30" stroke="#6e6e6e" stroke-width="1.0"/>
<path d="M464.50,437.50 L466.70,448.30 L462.30,448.30 Z" fill="#000"/>
<path d="M464.50,523.30 L462.30,512.50 L466.70,512.50 Z" fill="#000"/>
<text x="464.50" y="485.30" font-size="15.5" text-anchor="middle" >184</text>
<line x1="427.50" y1="523.30" x2="676.30" y2="523.30" stroke="#6e6e6e" stroke-width="1.0"/>
<line x1="427.50" y1="638.80" x2="522.00" y2="638.80" stroke="#6e6e6e" stroke-width="1.0"/>
<line x1="458.80" y1="552.00" x2="515.00" y2="552.00" stroke="#6e6e6e" stroke-width="1.0"/>
<line x1="464.50" y1="552.00" x2="464.50" y2="575.00" stroke="#6e6e6e" stroke-width="1.0"/>
<path d="M464.50,552.00 L466.70,562.80 L462.30,562.80 Z" fill="#000"/>
<text x="438.60" y="544.30" font-size="15.5" text-anchor="start" >max.60</text>
<path d="M515.5,523.3 L515.5,463.5 L539,463.5" fill="none" stroke="#1a1a1a" stroke-width="1.4" stroke-linejoin="round" />
<path d="M539.5,446 L539.5,481 Q540,483.5 542,482 C556,470 579,455 606,446 C620,441.5 630,440.5 635.5,440.8 Q639.5,441.5 639.8,445 L640.2,451 L629,451.2 C615,449.5 600,453 590,457.5 C575,464 560,476 548,491.5 Q542,499 539.5,505.5 L539.5,523.3" fill="none" stroke="#1a1a1a" stroke-width="1.4" stroke-linejoin="round" />
<path d="M541.5,486.5 C557,473 581,457 607,448.3 C621,443.8 630,442.5 637,443" fill="none" stroke="#555" stroke-width="1.0" stroke-linejoin="round" />
<path d="M539.5,482 Q534,493 539,506.5" fill="none" stroke="#555" stroke-width="1.0" stroke-linejoin="round" />
<rect x="629.00" y="451.50" width="8.30" height="3.30" rx="0" fill="none" stroke="#1a1a1a" stroke-width="1.0"/>
<path d="M515.5,446 Q517,445.6 520,445.2 L576,437.5 Q578.2,437.6 577,439.3 Q575,440.6 570,441.3 L545,444.7 Q540.5,445.5 539.5,447.5 L539.5,462.8 L526.5,462.5 L515.5,454 Z" fill="none" stroke="#1a1a1a" stroke-width="1.4" stroke-linejoin="round" />
<line x1="515.50" y1="463.50" x2="539.50" y2="463.50" stroke="#1a1a1a" stroke-width="1.4"/>
<path d="M533,445.5 Q534,449 538.5,450.5" fill="none" stroke="#555" stroke-width="1.0" stroke-linejoin="round" />
<path d="M516.5,462.5 Q517.5,459 520,458" fill="none" stroke="#555" stroke-width="1.0" stroke-linejoin="round" />
<path d="M506,456 L550.5,418 Q553.5,416 552.5,419.5 L548,424" fill="none" stroke="#1a1a1a" stroke-width="1.1" stroke-linejoin="round" stroke-dasharray="3.5,2.2" />
<path d="M510.5,463 L506,456" fill="none" stroke="#1a1a1a" stroke-width="1.0" stroke-linejoin="round" stroke-dasharray="3,2" />
<path d="M521,444 L545.5,423" fill="none" stroke="#1a1a1a" stroke-width="1.0" stroke-linejoin="round" stroke-dasharray="3.5,2.2" />
<path d="M527,444.5 L534,455 L530,458.5" fill="none" stroke="#1a1a1a" stroke-width="1.0" stroke-linejoin="round" stroke-dasharray="3,2" />
<line x1="510.50" y1="463.00" x2="515.50" y2="463.00" stroke="#1a1a1a" stroke-width="1.0"/>
<line x1="492.50" y1="515.50" x2="515.50" y2="515.50" stroke="#6e6e6e" stroke-width="1.0"/>
<path d="M515.50,515.50 L504.70,517.70 L504.70,513.30 Z" fill="#000"/>
<line x1="539.50" y1="515.50" x2="588.50" y2="515.50" stroke="#6e6e6e" stroke-width="1.0"/>
<path d="M539.50,515.50 L550.30,513.30 L550.30,517.70 Z" fill="#000"/>
<text x="553.30" y="512.30" font-size="15.5" text-anchor="start" >Ø</text>
<text x="567.20" y="512.30" font-size="15.5" text-anchor="start" >51</text>
<line x1="633.20" y1="454.80" x2="633.20" y2="518.50" stroke="#6e6e6e" stroke-width="1.0"/>
<line x1="633.20" y1="454.80" x2="636.60" y2="489.30" stroke="#6e6e6e" stroke-width="1.0"/>
<line x1="638.00" y1="454.80" x2="676.30" y2="454.80" stroke="#6e6e6e" stroke-width="1.0"/>
<line x1="669.60" y1="454.80" x2="669.60" y2="479.50" stroke="#6e6e6e" stroke-width="1.0"/>
<line x1="669.60" y1="499.00" x2="669.60" y2="523.30" stroke="#6e6e6e" stroke-width="1.0"/>
<path d="M669.60,454.80 L671.80,465.60 L667.40,465.60 Z" fill="#000"/>
<path d="M669.60,523.30 L667.40,512.50 L671.80,512.50 Z" fill="#000"/>
<text x="670.00" y="494.70" font-size="15.5" text-anchor="middle" >146</text>
<text x="597.30" y="475.00" font-size="15.5" text-anchor="start" >5</text>
<text x="606.50" y="475.00" font-size="15.5" text-anchor="start" >°</text>
<path d="M593,478 L617,478 Q626,480 633.5,483.2" fill="none" stroke="#555" stroke-width="1.0" stroke-linejoin="round" />
<path d="M633.50,483.20 L622.50,482.53 L623.64,478.28 Z" fill="#000"/>
<path d="M655,473.8 Q651,480 636,483.2" fill="none" stroke="#555" stroke-width="1.0" stroke-linejoin="round" />
<path d="M636.00,483.20 L646.25,479.16 L647.02,483.49 Z" fill="#000"/>
<clipPath id="h6"><path d="M497.5,523.3 L520,523.3 L520,544.5 L497.5,544.5 Z M535,523.3 L556.3,523.3 L556.3,544.5 L535,544.5 Z"/></clipPath>
<g clip-path="url(#h6)">
<line x1="470.00" y1="545.00" x2="492.00" y2="523.00" stroke="#333" stroke-width="0.95"/>
<line x1="477.00" y1="545.00" x2="499.00" y2="523.00" stroke="#333" stroke-width="0.95"/>
<line x1="484.00" y1="545.00" x2="506.00" y2="523.00" stroke="#333" stroke-width="0.95"/>
<line x1="491.00" y1="545.00" x2="513.00" y2="523.00" stroke="#333" stroke-width="0.95"/>
<line x1="498.00" y1="545.00" x2="520.00" y2="523.00" stroke="#333" stroke-width="0.95"/>
<line x1="505.00" y1="545.00" x2="527.00" y2="523.00" stroke="#333" stroke-width="0.95"/>
<line x1="512.00" y1="545.00" x2="534.00" y2="523.00" stroke="#333" stroke-width="0.95"/>
<line x1="519.00" y1="545.00" x2="541.00" y2="523.00" stroke="#333" stroke-width="0.95"/>
<line x1="526.00" y1="545.00" x2="548.00" y2="523.00" stroke="#333" stroke-width="0.95"/>
<line x1="533.00" y1="545.00" x2="555.00" y2="523.00" stroke="#333" stroke-width="0.95"/>
<line x1="540.00" y1="545.00" x2="562.00" y2="523.00" stroke="#333" stroke-width="0.95"/>
<line x1="547.00" y1="545.00" x2="569.00" y2="523.00" stroke="#333" stroke-width="0.95"/>
<line x1="554.00" y1="545.00" x2="576.00" y2="523.00" stroke="#333" stroke-width="0.95"/>
<line x1="561.00" y1="545.00" x2="583.00" y2="523.00" stroke="#333" stroke-width="0.95"/>
</g>
<line x1="497.50" y1="544.50" x2="558.00" y2="544.50" stroke="#6e6e6e" stroke-width="1.0"/>
<line x1="520.00" y1="523.30" x2="520.00" y2="544.50" stroke="#1a1a1a" stroke-width="1.1"/>
<line x1="535.00" y1="523.30" x2="535.00" y2="544.50" stroke="#1a1a1a" stroke-width="1.1"/>
<line x1="502.00" y1="533.80" x2="520.00" y2="533.80" stroke="#6e6e6e" stroke-width="1.0"/>
<path d="M520.00,533.80 L509.20,536.00 L509.20,531.60 Z" fill="#000"/>
<line x1="535.00" y1="533.80" x2="566.00" y2="533.80" stroke="#6e6e6e" stroke-width="1.0"/>
<path d="M535.00,533.80 L545.80,531.60 L545.80,536.00 Z" fill="#000"/>
<line x1="566.00" y1="533.80" x2="566.00" y2="552.50" stroke="#6e6e6e" stroke-width="1.0"/>
<line x1="566.00" y1="552.50" x2="599.00" y2="552.50" stroke="#6e6e6e" stroke-width="1.0"/>
<text x="568.60" y="548.80" font-size="15.5" text-anchor="start" >Ø34</text>
<line x1="527.50" y1="523.30" x2="527.50" y2="552.00" stroke="#6e6e6e" stroke-width="1.0"/>
<path d="M522,545.5 L537,545.5 L537,550 L522,550 Z" fill="none" stroke="#1a1a1a" stroke-width="1.0" stroke-linejoin="round" />
<path d="M524,550 L527,546 M531,550 L534,546" fill="none" stroke="#555" stroke-width="1.0" stroke-linejoin="round" />
<line x1="516.80" y1="544.50" x2="516.80" y2="552.00" stroke="#6e6e6e" stroke-width="1.0"/>
<line x1="519.20" y1="544.50" x2="519.20" y2="552.00" stroke="#6e6e6e" stroke-width="1.0"/>
<rect x="515.5" y="552" width="22" height="11" rx="1" fill="#fff" stroke="#1a1a1a" stroke-width="1.2"/>
<rect x="515.5" y="552" width="22" height="1.6" fill="#1a1a1a"/>
<line x1="515.50" y1="555.20" x2="537.50" y2="555.20" stroke="#6e6e6e" stroke-width="1.0"/>
<line x1="527.50" y1="553.00" x2="527.50" y2="563.00" stroke="#6e6e6e" stroke-width="1.0"/>
<rect x="516.50" y="563.00" width="20.00" height="2.00" rx="0" fill="none" stroke="#1a1a1a" stroke-width="0.9"/>
<rect x="517.5" y="565" width="18.5" height="11.5" fill="#2b2b2b" stroke="#1a1a1a" stroke-width="1"/>
<line x1="521.00" y1="566.00" x2="521.00" y2="575.50" stroke="#888" stroke-width="0.5"/>
<line x1="524.00" y1="566.00" x2="524.00" y2="575.50" stroke="#888" stroke-width="0.5"/>
<line x1="527.50" y1="566.00" x2="527.50" y2="575.50" stroke="#888" stroke-width="0.5"/>
<line x1="531.00" y1="566.00" x2="531.00" y2="575.50" stroke="#888" stroke-width="0.5"/>
<line x1="533.50" y1="566.00" x2="533.50" y2="575.50" stroke="#888" stroke-width="0.5"/>
<line x1="525.00" y1="576.50" x2="525.00" y2="601.00" stroke="#1a1a1a" stroke-width="1.1"/>
<line x1="529.50" y1="576.50" x2="529.50" y2="601.00" stroke="#1a1a1a" stroke-width="1.1"/>
<line x1="525.00" y1="607.00" x2="525.00" y2="634.00" stroke="#1a1a1a" stroke-width="1.1"/>
<line x1="529.50" y1="607.00" x2="529.50" y2="634.00" stroke="#1a1a1a" stroke-width="1.1"/>
<line x1="527.30" y1="577.00" x2="527.30" y2="611.00" stroke="#6e6e6e" stroke-width="1.0"/>
<rect x="525" y="626.3" width="4.6" height="6" fill="#444"/>
<rect x="521" y="633.8" width="12.8" height="4.5" rx="1.3" fill="#1a1a1a"/>
<rect x="523" y="635" width="9" height="1.5" fill="#999"/>
<line x1="522.50" y1="638.50" x2="522.50" y2="658.80" stroke="#6e6e6e" stroke-width="1.0"/>
<line x1="532.00" y1="638.50" x2="532.00" y2="658.80" stroke="#6e6e6e" stroke-width="1.0"/>
<line x1="528.00" y1="605.00" x2="562.50" y2="605.00" stroke="#6e6e6e" stroke-width="1.0"/>
<path d="M528.00,605.00 L538.80,602.80 L538.80,607.20 Z" fill="#000"/>
<line x1="597.50" y1="605.00" x2="633.80" y2="605.00" stroke="#6e6e6e" stroke-width="1.0"/>
<path d="M633.80,605.00 L623.00,607.20 L623.00,602.80 Z" fill="#000"/>
<line x1="633.80" y1="528.80" x2="633.80" y2="608.80" stroke="#6e6e6e" stroke-width="1.0"/>
<text x="580.00" y="610.50" font-size="15.5" text-anchor="middle" >227</text>
<line x1="500.00" y1="653.30" x2="522.50" y2="653.30" stroke="#6e6e6e" stroke-width="1.0"/>
<path d="M522.50,653.30 L511.70,655.50 L511.70,651.10 Z" fill="#000"/>
<line x1="532.00" y1="653.30" x2="575.00" y2="653.30" stroke="#6e6e6e" stroke-width="1.0"/>
<path d="M532.00,653.30 L542.80,651.10 L542.80,655.50 Z" fill="#000"/>
<text x="543.10" y="651.00" font-size="14.5" text-anchor="start" >G</text>
<text x="557.20" y="644.00" font-size="9.5" text-anchor="start" >3</text>
<text x="562.10" y="651.30" font-size="15" text-anchor="start" >/</text>
<text x="566.80" y="651.40" font-size="9.5" text-anchor="start" >8</text>
<line x1="555.61" y1="682.36" x2="568.80" y2="663.52" stroke="#6e6e6e" stroke-width="1.0"/>
<line x1="555.61" y1="762.64" x2="568.80" y2="781.48" stroke="#6e6e6e" stroke-width="1.0"/>
<path d="M527.21,710.70 L545.57,684.49 Q558.42,678.35 557.04,692.52 L538.68,718.73" fill="none" stroke="#1a1a1a" stroke-width="1.0" stroke-linejoin="round" stroke-dasharray="4,2.5" />
<path d="M538.68,726.27 L557.04,752.48 Q558.42,766.65 545.57,760.51 L527.21,734.30" fill="none" stroke="#1a1a1a" stroke-width="1.0" stroke-linejoin="round" stroke-dasharray="4,2.5" />
<path d="M593.25,682.0 L623.9,670.6 Q630.2,668.2 630.2,674.0 L630.2,679.5 Q630,682.3 626.5,683.75 L600.25,695.6" fill="none" stroke="#1a1a1a" stroke-width="1.0" stroke-linejoin="round" stroke-dasharray="4,2.5" />
<line x1="630.00" y1="672.40" x2="665.90" y2="656.60" stroke="#6e6e6e" stroke-width="1.0"/>
<path d="M593.25,763.0 L623.9,774.4 Q630.2,776.8 630.2,771.0 L630.2,765.5 Q630,762.7 626.5,761.25 L600.25,749.4" fill="none" stroke="#1a1a1a" stroke-width="1.0" stroke-linejoin="round" stroke-dasharray="4,2.5" />
<line x1="630.00" y1="772.60" x2="665.90" y2="788.40" stroke="#6e6e6e" stroke-width="1.0"/>
<path d="M537.5,715 A12.5,12.5 0 1 0 537.5,730" fill="#fff" stroke="#1a1a1a" stroke-width="1.9"/>
<path d="M537.5,715 Q539,715.3 543,715.3 L574,716.2 Q577,717 577,722.5 Q577,728 574,728.7 L543,729.6 Q539,729.7 537.5,730" fill="none" stroke="#1a1a1a" stroke-width="1.7" stroke-linejoin="round" />
<path d="M577,715 L633.5,715 Q640,715 640,722.5 Q640,730 633.5,730 L577,730" fill="none" stroke="#1a1a1a" stroke-width="1.3" stroke-linejoin="round" />
<line x1="577.00" y1="722.50" x2="600.00" y2="722.50" stroke="#6e6e6e" stroke-width="1.0"/>
<line x1="577.00" y1="720.20" x2="598.00" y2="720.20" stroke="#6e6e6e" stroke-width="1.0"/>
<path d="M567.22,669.79 A66,66 0 0 1 580.21,682.78" fill="none" stroke="#555" stroke-width="1.0" stroke-linejoin="round" />
<path d="M565.83,668.77 L575.90,673.25 L573.34,676.83 Z" fill="#000"/>
<path d="M589.52,699.93 A66,66 0 0 1 593.50,722.50" fill="none" stroke="#555" stroke-width="1.0" stroke-linejoin="round" />
<path d="M593.50,722.15 L591.30,714.15 L595.70,714.15 Z" fill="#000"/>
<path d="M567.22,775.21 A66,66 0 0 0 580.21,762.22" fill="none" stroke="#555" stroke-width="1.0" stroke-linejoin="round" />
<path d="M565.83,776.23 L573.34,768.17 L575.90,771.75 Z" fill="#000"/>
<path d="M589.52,745.07 A66,66 0 0 0 593.50,722.50" fill="none" stroke="#555" stroke-width="1.0" stroke-linejoin="round" />
<path d="M593.50,722.85 L595.70,730.85 L591.30,730.85 Z" fill="#000"/>
<path d="M662.17,661.13 A148,148 0 0 1 674.69,707.03" fill="none" stroke="#555" stroke-width="1.0" stroke-linejoin="round" />
<path d="M661.63,659.95 L668.19,668.81 L664.20,670.67 Z" fill="#000"/>
<path d="M662.17,783.87 A148,148 0 0 0 674.94,735.40" fill="none" stroke="#555" stroke-width="1.0" stroke-linejoin="round" />
<path d="M661.63,785.05 L664.20,774.33 L668.19,776.19 Z" fill="#000"/>
<text x="574.00" y="697.80" font-size="15.5" text-anchor="start" >55</text>
<text x="592.50" y="697.80" font-size="15.5" text-anchor="start" >°</text>
<text x="574.00" y="758.60" font-size="15.5" text-anchor="start" >55</text>
<text x="592.50" y="758.60" font-size="15.5" text-anchor="start" >°</text>
<text x="658.50" y="728.60" font-size="15.5" text-anchor="start" >140</text>
<text x="684.00" y="728.60" font-size="15.5" text-anchor="start" >°</text>
<path d="M545.35,312.79 L563.34,291.34 C568.49,285.21 578.29,293.44 573.15,299.57 L557.08,318.72" fill="none" stroke="#1a1a1a" stroke-width="1.0" stroke-linejoin="round" stroke-dasharray="4,2.5" />
<line x1="572.30" y1="290.63" x2="590.94" y2="268.41" stroke="#6e6e6e" stroke-width="1.0"/>
<path d="M555.15,324.58 L573.15,346.03 C578.29,352.16 568.49,360.39 563.34,354.26 L547.28,335.11" fill="none" stroke="#1a1a1a" stroke-width="1.0" stroke-linejoin="round" stroke-dasharray="4,2.5" />
<line x1="572.30" y1="354.97" x2="590.94" y2="377.19" stroke="#6e6e6e" stroke-width="1.0"/>
<path d="M546.3,311.9 A10.9,10.9 0 1 0 546.3,333.7" fill="#fff" stroke="#1a1a1a" stroke-width="1.9"/>
<path d="M546.3,311.9 L605,314.4 Q610,316 610,322.8 Q610,329.6 605,331.9 L546.3,333.7" fill="none" stroke="#1a1a1a" stroke-width="1.3" stroke-linejoin="round" />
<line x1="560.00" y1="333.30" x2="605.00" y2="331.90" stroke="#1a1a1a" stroke-width="1.8"/>
<path d="M548.5,313 Q551,315.6 553.5,315.6 L586,317.5 Q588.2,318.5 588.2,322.9 Q588.2,327.5 586,328.7 L553.5,330 Q551,330 548.5,332.6" fill="none" stroke="#1a1a1a" stroke-width="1.5" stroke-linejoin="round" />
<ellipse cx="545.6" cy="322.8" rx="1.2" ry="2.9" fill="#1a1a1a"/>
<line x1="577.50" y1="322.80" x2="616.30" y2="322.80" stroke="#777" stroke-width="0.8" stroke-dasharray="8,2"/>
<path d="M587.94,273.74 A65,65 0 0 1 597.21,283.68" fill="none" stroke="#555" stroke-width="1.0" stroke-linejoin="round" />
<path d="M587.08,273.01 L596.77,278.26 L593.94,281.63 Z" fill="#000"/>
<path d="M607.78,304.88 A65,65 0 0 1 610.30,322.80" fill="none" stroke="#555" stroke-width="1.0" stroke-linejoin="round" />
<path d="M610.30,322.46 L608.10,313.46 L612.50,313.46 Z" fill="#000"/>
<path d="M587.94,371.86 A65,65 0 0 0 597.21,361.92" fill="none" stroke="#555" stroke-width="1.0" stroke-linejoin="round" />
<path d="M587.08,372.59 L593.94,363.97 L596.77,367.34 Z" fill="#000"/>
<path d="M607.78,340.72 A65,65 0 0 0 610.30,322.80" fill="none" stroke="#555" stroke-width="1.0" stroke-linejoin="round" />
<path d="M610.30,323.14 L612.50,332.14 L608.10,332.14 Z" fill="#000"/>
<text x="593.00" y="301.20" font-size="15.5" text-anchor="start" >50</text>
<text x="610.30" y="301.20" font-size="15.5" text-anchor="start" >°</text>
<text x="593.00" y="356.20" font-size="15.5" text-anchor="start" >50</text>
<text x="610.30" y="356.20" font-size="15.5" text-anchor="start" >°</text>
</svg></body></html>
